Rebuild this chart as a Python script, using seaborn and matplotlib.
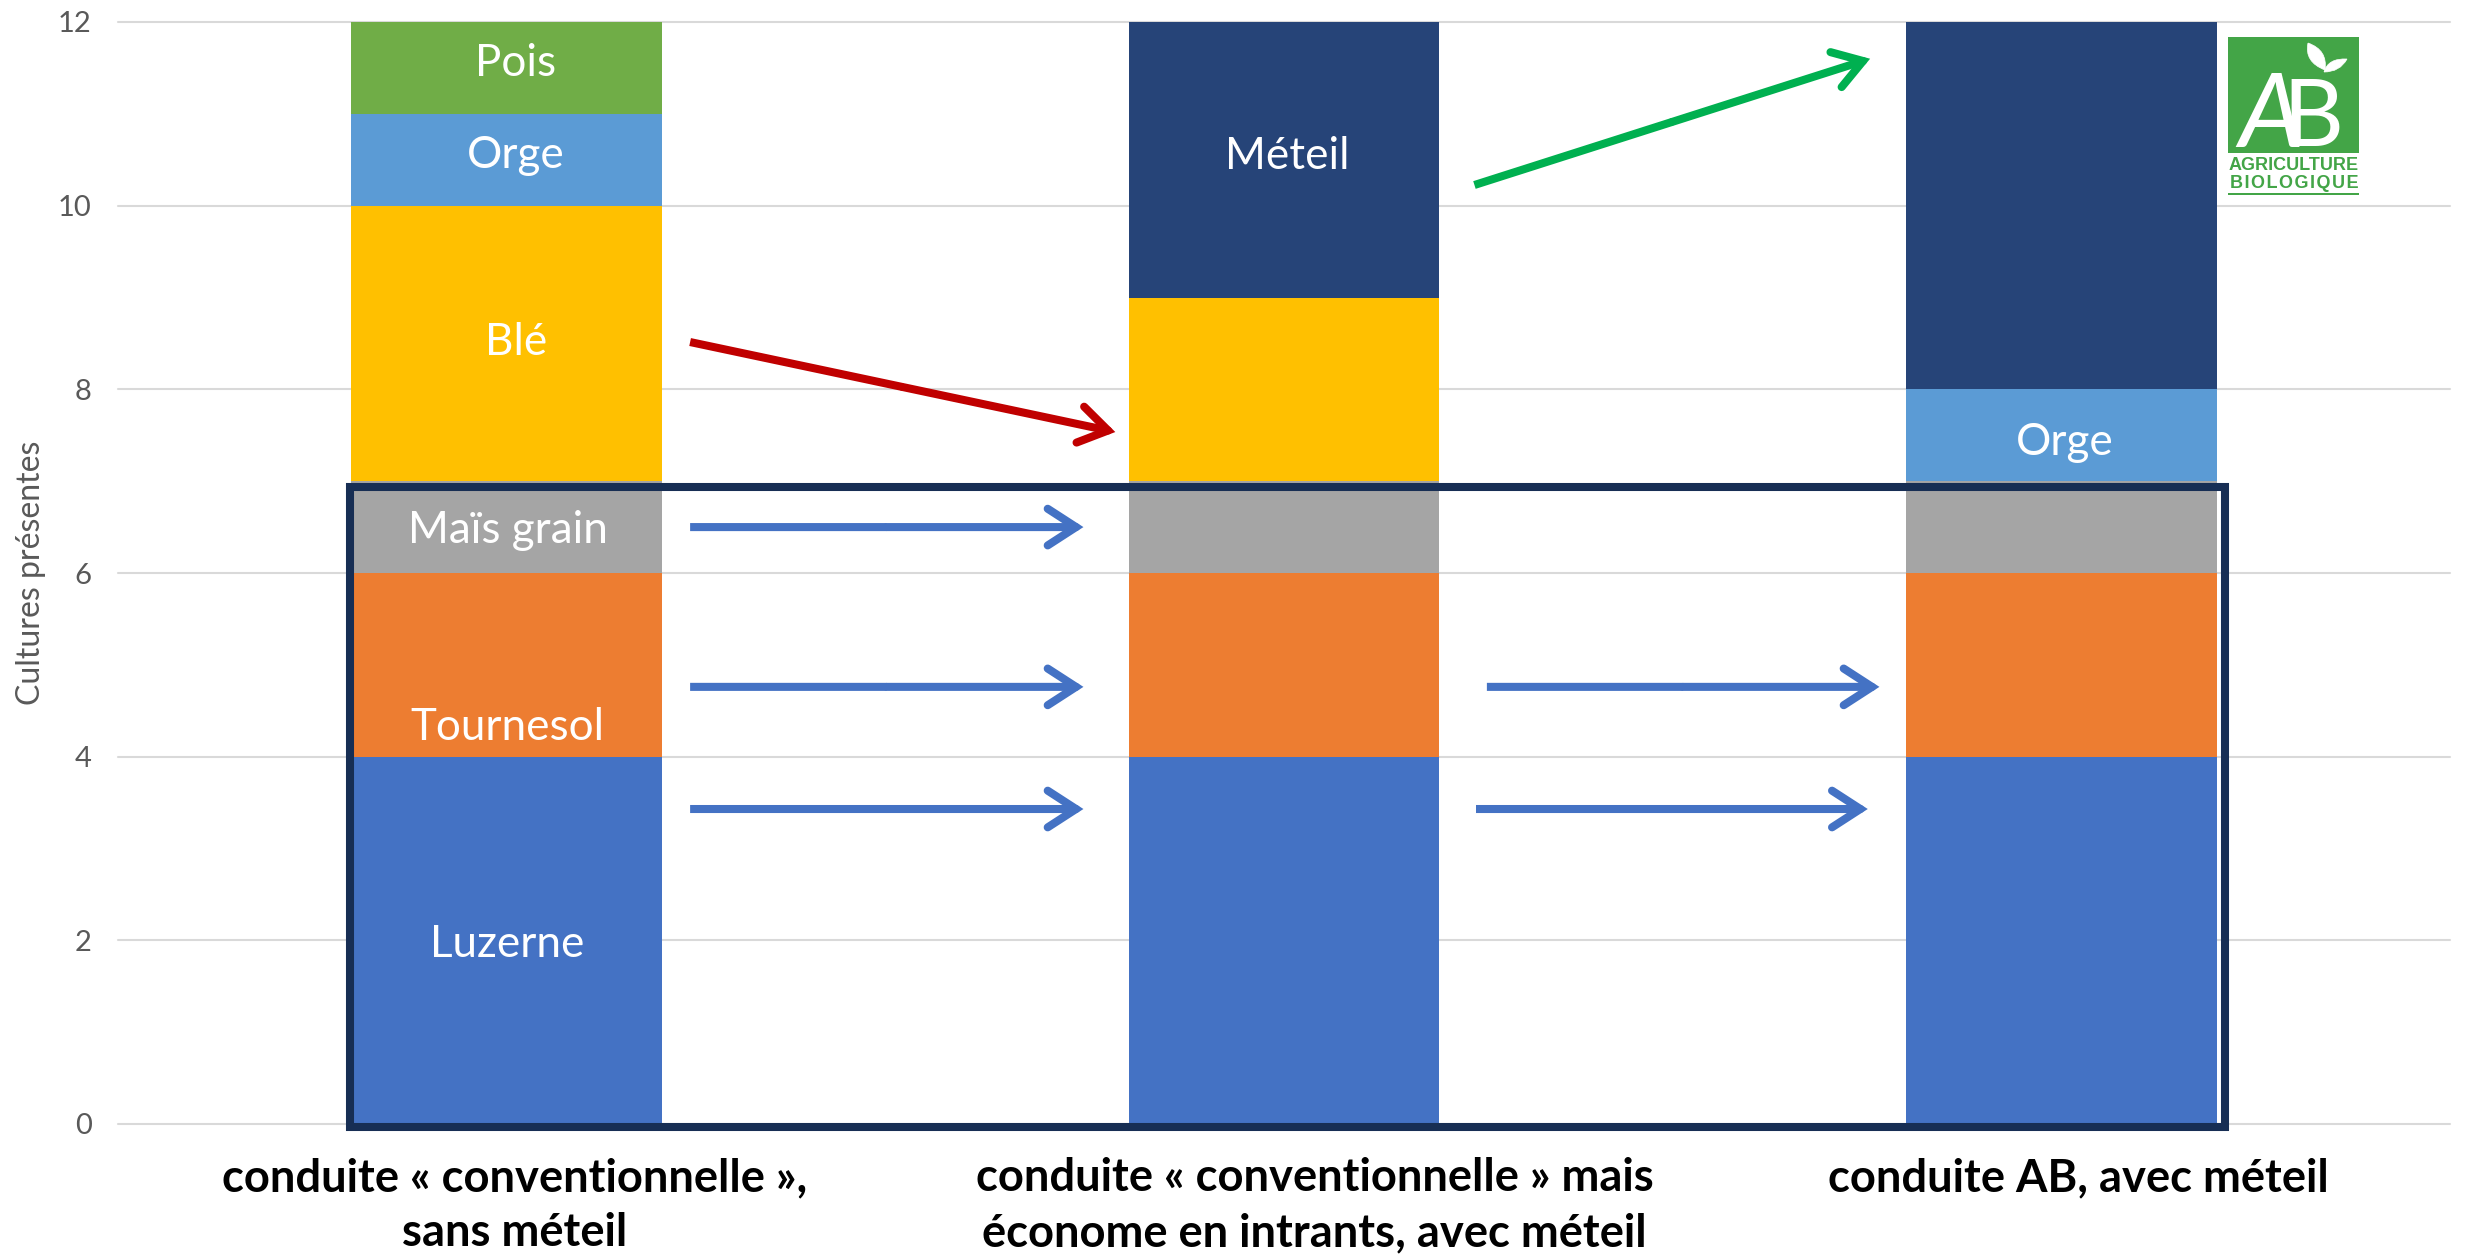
import matplotlib
matplotlib.use("Agg")
import matplotlib.pyplot as plt
from matplotlib.patches import Rectangle, PathPatch
from matplotlib.path import Path
from matplotlib.transforms import ScaledTranslation
import pandas as pd
import seaborn as sns

sns.set_theme(style="white")
plt.rcParams["font.family"] = ["Lato", "DejaVu Sans"]

W, H = 2465, 1254

# Rotations compared, with the crops making up each one, bottom to top
systems = [
    "conduite « conventionnelle »,\nsans méteil",
    "conduite « conventionnelle » mais\néconome en intrants, avec méteil",
    "conduite AB, avec méteil",
]
crops = ["Luzerne", "Tournesol", "Maïs grain", "Blé", "Orge", "Pois", "Méteil"]
luzerne = [4, 4, 4]
tournesol = [2, 2, 2]
mais = [1, 1, 1]
ble = [3, 2, 0]
orge = [1, 0, 1]
pois = [1, 0, 0]
meteil = [0, 3, 4]
crop_colors = ["#4472C4", "#ED7D31", "#A5A5A5", "#FFC000", "#5B9BD5", "#70AD47", "#264478"]

# Labels written inside the bars: text, x (system index), y (crop count)
bar_labels = [
    ("Pois", 0.012, 11.545), ("Orge", 0.012, 10.545), ("Blé", 0.012, 8.505),
    ("Maïs grain", 0.001, 6.46), ("Tournesol", 0.001, 4.32), ("Luzerne", 0.001, 1.95),
    ("Méteil", 1.004, 10.54), ("Orge", 2.005, 7.42),
]
# Transition arrows: x0, y0, x1, y1, colour
arrows = [
    (0.236, 8.515, 0.783, 7.535, "#C00000"),
    (1.245, 10.225, 1.754, 11.6, "#00B050"),
    (0.236, 6.5, 0.742, 6.5, "#4472C4"),
    (0.236, 4.76, 0.742, 4.76, "#4472C4"),
    (1.261, 4.76, 1.766, 4.76, "#4472C4"),
    (0.236, 3.43, 0.742, 3.43, "#4472C4"),
    (1.247, 3.43, 1.751, 3.43, "#4472C4"),
]
# Horizontal shift of each system caption, in points
caption_shift = [6, 22, 12]

series = [luzerne, tournesol, mais, ble, orge, pois, meteil]
df = pd.DataFrame({"systeme": systems})
for crop, values in zip(crops, series):
    df[crop] = values

fig = plt.figure(figsize=(W / 100, H / 100), dpi=100, facecolor="white")
ax = fig.add_axes([118 / W, 1 - 1124 / H, (2450 - 118) / W, (1124 - 22) / H])

bottom = [0, 0, 0]
for crop, color in zip(crops, crop_colors):
    sns.barplot(data=df, x="systeme", y=crop, bottom=bottom, color=color,
                saturation=1, width=0.4, order=systems, ax=ax, zorder=2, linewidth=0)
    bottom = [b + v for b, v in zip(bottom, df[crop])]

ax.set_xlim(-0.5, 2.5)
ax.set_ylim(0, 12)
ax.set_yticks(range(0, 13, 2))
ax.yaxis.grid(True, color="#D9D9D9", lw=1.5, zorder=0)
ax.set_axisbelow(True)
for gridline in ax.get_ygridlines():
    gridline.set_clip_on(False)
sns.despine(ax=ax, left=True, bottom=True, top=True, right=True)
ax.tick_params(axis="y", length=0, labelsize=21, labelcolor="#595959", pad=19)
ax.tick_params(axis="x", length=0, pad=24)
ax.set_xlabel("")
ax.set_ylabel("Cultures présentes", fontsize=23, color="#595959")
ax.yaxis.set_label_coords(-0.0309, 0.5)
for lab, shift in zip(ax.get_xticklabels(), caption_shift):
    lab.set_fontsize(32.7)
    lab.set_fontweight("bold")
    lab.set_color("black")
    lab.set_linespacing(1.38)
    lab.set_transform(lab.get_transform() + ScaledTranslation(shift / 72, 0, fig.dpi_scale_trans))

for text, x, y in bar_labels:
    ax.text(x, y, text, color="white", fontsize=31.7, ha="center", va="center", zorder=5)

for x0, y0, x1, y1, color in arrows:
    # Square-ended shaft, then a round-ended head over its last stretch
    xm, ym = (x0 + x1) / 2, (y0 + y1) / 2
    ax.annotate("", xy=(xm, ym), xytext=(x0, y0), zorder=6,
                arrowprops=dict(arrowstyle="-", color=color, lw=5.8, shrinkA=0, shrinkB=0,
                                capstyle="butt"))
    ax.annotate("", xy=(x1, y1), xytext=(xm, ym), zorder=6,
                arrowprops=dict(arrowstyle="->,head_length=0.85,head_width=0.55", color=color,
                                lw=5.8, shrinkA=0, shrinkB=0, mutation_scale=24,
                                capstyle="round", joinstyle="miter"))

# Frame around the crops shared by the three systems
fig.add_artist(Rectangle((350 / W, 1 - 1126.5 / H), (2225 - 350) / W, (1126.5 - 487.5) / H,
                         transform=fig.transFigure, fill=False, ec="#172E54", lw=5.8, zorder=8))

# Organic farming badge
logo = fig.add_axes([2228 / W, 1 - 196 / H, 132 / W, 160 / H])
logo.set_xlim(0, 132)
logo.set_ylim(160, 0)
logo.axis("off")
GREEN = "#43A547"
logo.add_patch(Rectangle((0, 1), 131, 116, fc=GREEN, ec="none"))
logo.text(10, 111, "A", color="white", fontsize=74, style="italic", family="Lato",
          ha="left", va="baseline")
logo.text(54, 110, "B", color="white", fontsize=68, family="Lato",
          ha="left", va="baseline")
leaf_codes = [Path.MOVETO, Path.CURVE3, Path.CURVE3, Path.CURVE3, Path.CURVE3]
for verts in ([(80, 7), (76, 26), (97, 34), (100, 14), (80, 7)],
              [(96, 36), (100, 22), (119, 23), (112, 36), (96, 36)]):
    logo.add_patch(PathPatch(Path(verts, leaf_codes), fc="white", ec="white", lw=0.5))
logo.text(66, 129, "AGRICULTURE", color=GREEN, fontsize=13, weight="bold",
          family=["Liberation Sans", "DejaVu Sans"], ha="center", va="center")
logo.text(66, 148, "\u200a".join("BIOLOGIQUE"), color=GREEN, fontsize=13, weight="bold",
          family=["Liberation Sans", "DejaVu Sans"], ha="center", va="center")
logo.add_patch(Rectangle((0, 156.5), 131, 2, fc=GREEN, ec="none"))

fig.savefig("out.png", dpi=100)
